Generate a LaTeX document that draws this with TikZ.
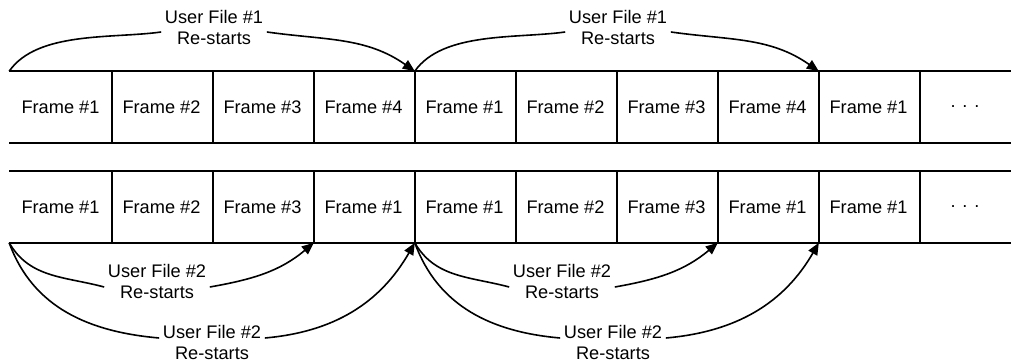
\documentclass[tikz,border=0pt]{standalone}
\usepackage{fontspec}
\setmainfont{Liberation Sans}
\usetikzlibrary{arrows.meta}
\begin{document}
\begin{tikzpicture}[x=0.5pt,y=0.5pt,line width=0.8pt,
    txt/.style={font=\fontsize{9.1}{10.5}\selectfont},
    cell/.style={txt,minimum width=50.5pt,minimum height=35pt,inner sep=0pt},
    restart/.style={txt,align=center,inner sep=1.5pt},
    arr/.style={-{Triangle[length=6pt,width=5pt]}}]
\useasboundingbox (0,0) rectangle (1011,363);

\foreach \i/\t in {1/1, 2/2, 3/3, 4/4, 5/1, 6/2, 7/3, 8/4, 9/1}
{
    \node[cell] (t\i) at (10+101*\i-50.5,256){Frame \#\t};
}
\node[cell,minimum width=46pt] (t10) at (965,256){. . .};
\foreach \i/\t in {1/1, 2/2, 3/3, 4/1, 5/1, 6/2, 7/3, 8/1, 9/1}
{
    \node[cell] (b\i) at (10+101*\i-50.5,156){Frame \#\t};
}
\node[cell,minimum width=46pt] (b10) at (965,156){. . .};

\draw(t1.north west)--(t10.north east);
\draw(t1.south west)--(t10.south east);
\draw(b1.north west)--(b10.north east);
\draw(b1.south west)--(b10.south east);
\foreach \i in {1,...,9}
{
    \draw(t\i.north east)--(t\i.south east);
    \draw(b\i.north east)--(b\i.south east);
}

\node[restart] (U1a) at (214,335){User File \#1\\Re-starts};
\node[restart] (U1b) at (618,335){User File \#1\\Re-starts};
\node[restart] (U2a) at (157,82){User File \#2\\Re-starts};
\node[restart] (U2b) at (212,21){User File \#2\\Re-starts};
\node[restart] (U2c) at (562,82){User File \#2\\Re-starts};
\node[restart] (U2d) at (613,21){User File \#2\\Re-starts};

\draw(t1.north west) to[out=55,in=188,looseness=0.8] ([yshift=-2pt]U1a.west);
\draw[arr]([yshift=-2pt]U1a.east) to[out=-8,in=145] (t4.north east);
\draw(t4.north east) to[out=55,in=188,looseness=0.8] ([yshift=-2pt]U1b.west);
\draw[arr]([yshift=-2pt]U1b.east) to[out=-8,in=145] (t8.north east);

\draw(b1.south west) to[out=-60,in=165] ([yshift=-3pt]U2a.west);
\draw[arr]([yshift=-3pt]U2a.east) to[out=10,in=-140] (b3.south east);
\draw(b1.south west) to[out=-70,in=175] ([yshift=2pt]U2b.west);
\draw[arr]([yshift=2pt]U2b.east) to[out=5,in=-120] (b4.south east);
\draw(b4.south east) to[out=-60,in=165] ([yshift=-3pt]U2c.west);
\draw[arr]([yshift=-3pt]U2c.east) to[out=10,in=-140] (b7.south east);
\draw(b4.south east) to[out=-70,in=175] ([yshift=2pt]U2d.west);
\draw[arr]([yshift=2pt]U2d.east) to[out=5,in=-120] (b8.south east);

\end{tikzpicture}
\end{document}
